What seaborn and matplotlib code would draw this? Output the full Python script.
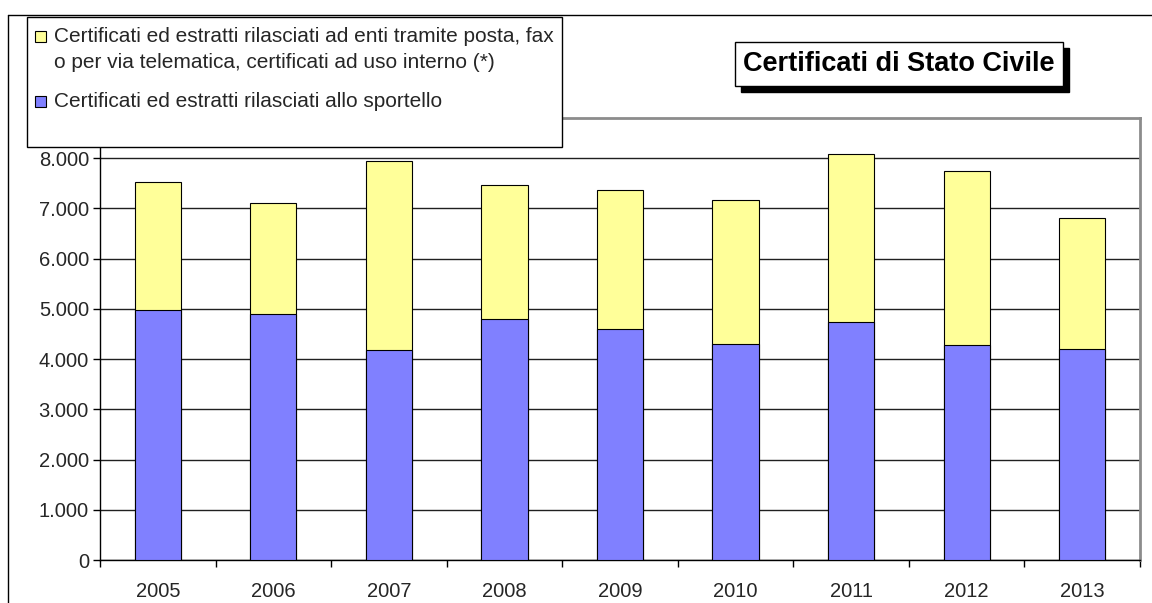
import numpy as np
import pandas as pd
import matplotlib
matplotlib.use("Agg")
import matplotlib.pyplot as plt
import seaborn as sns
from matplotlib.patches import Rectangle
from matplotlib.lines import Line2D
from matplotlib.ticker import FuncFormatter, FixedLocator

# -------------------------------
# Data
# -------------------------------
years = ["2005", "2006", "2007", "2008", "2009", "2010", "2011", "2012", "2013"]
sportello = [4975, 4900, 4185, 4790, 4590, 4310, 4735, 4280, 4200]
altri = [2555, 2210, 3755, 2675, 2780, 2865, 3350, 3455, 2610]

label_altri = ("Certificati ed estratti rilasciati ad enti tramite posta, fax\n"
               "o per via telematica, certificati ad uso interno (*)")
label_sportello = "Certificati ed estratti rilasciati allo sportello"
title = "Certificati di Stato Civile"

df = pd.DataFrame({"anno": years, "sportello": sportello, "altri": altri})
df["totale"] = df["sportello"] + df["altri"]

blue = "#8080FF"
yellow = "#FFFF99"

# -------------------------------
# Figure
# -------------------------------
sns.set_style("white")
plt.rcParams["font.family"] = ["Liberation Sans", "DejaVu Sans"]

W, H = 1152, 603
fig = plt.figure(figsize=(W / 100, H / 100), dpi=100)
ax = fig.add_axes([100 / W, 1 - 560 / H, 1040 / W, (560 - 118) / H])

# stacked bars: total first (yellow), then sportello (blue) over it
sns.barplot(data=df, x="anno", y="totale", color=yellow, width=0.4,
            edgecolor="black", linewidth=0.8, saturation=1, ax=ax, zorder=3)
sns.barplot(data=df, x="anno", y="sportello", color=blue, width=0.4,
            edgecolor="black", linewidth=0.8, saturation=1, ax=ax, zorder=4)

ax.set_xlim(-0.5, len(years) - 0.5)
ax.set_ylim(0, 8800)
ax.set_xlabel("")
ax.set_ylabel("")

# y axis
ax.yaxis.set_major_locator(FixedLocator(np.arange(0, 8001, 1000)))
ax.yaxis.set_major_formatter(FuncFormatter(lambda v, p: f"{int(v):,}".replace(",", ".")))
ax.tick_params(axis="y", which="major", direction="out", length=5, width=1,
               color="black", labelsize=14.5, pad=3, left=True)
ax.grid(axis="y", color="#202020", linewidth=1, zorder=0)
ax.set_axisbelow(True)

# x axis: labels centered, ticks on category boundaries
ax.tick_params(axis="x", which="major", length=0, labelsize=14.5, pad=16)
ax.set_xticks(np.arange(-0.5, len(years), 1), minor=True)
ax.tick_params(axis="x", which="minor", direction="out", length=5, width=1,
               color="black", bottom=True)

for side in ["left", "bottom"]:
    ax.spines[side].set_color("black")
    ax.spines[side].set_linewidth(1)
for side in ["top", "right"]:
    ax.spines[side].set_color("#8c8c8c")
    ax.spines[side].set_linewidth(2)

# -------------------------------
# Chart-area border (top and left)
# -------------------------------
fig.add_artist(Line2D([8 / W, 8 / W], [0, 1 - 15 / H], color="black", lw=1,
                      transform=fig.transFigure))
fig.add_artist(Line2D([8 / W, 1], [1 - 15 / H, 1 - 15 / H], color="black", lw=1,
                      transform=fig.transFigure))

# -------------------------------
# Legend box (drawn by hand so the key sits on the first line)
# -------------------------------
fig.add_artist(Rectangle((27 / W, 1 - 147 / H), (562 - 27) / W, (147 - 17) / H,
                         facecolor="white", edgecolor="black", lw=1,
                         transform=fig.transFigure, zorder=10))
legend_items = [(yellow, label_altri, 36), (blue, label_sportello, 101)]
for col, lab, yc in legend_items:
    fig.add_artist(Rectangle((35 / W, 1 - (yc + 6) / H), 11 / W, 11 / H,
                             facecolor=col, edgecolor="black", lw=0.8,
                             transform=fig.transFigure, zorder=11))
    fig.text(54 / W, 1 - (yc - 9) / H, lab, fontsize=15, ha="left", va="top",
             linespacing=1.45, zorder=12)

# -------------------------------
# Title box with shadow
# -------------------------------
tx, ty = 899 / W, 1 - 64 / H
t = fig.text(tx, ty, title, fontsize=19.5, fontweight="bold", ha="center",
             va="center", color="black", zorder=21,
             bbox=dict(boxstyle="square,pad=0.32", facecolor="white",
                       edgecolor="black", lw=1))
fig.canvas.draw()
bb = t.get_bbox_patch().get_window_extent().transformed(fig.transFigure.inverted())
fig.add_artist(Rectangle((bb.x0 + 6 / W, bb.y0 - 6 / H), bb.width, bb.height,
                         facecolor="black", edgecolor="black",
                         transform=fig.transFigure, zorder=20))

fig.savefig("out.png", dpi=100)
